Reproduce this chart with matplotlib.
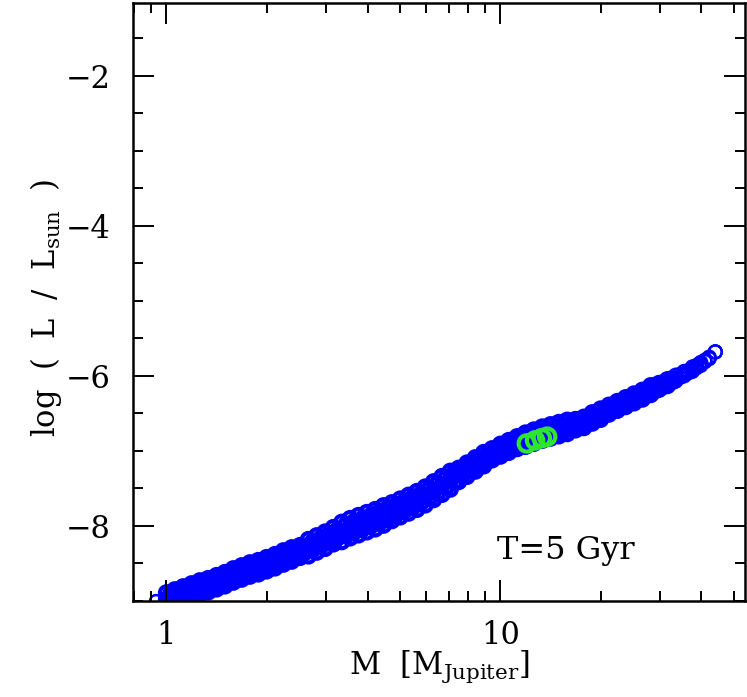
import numpy as np
import matplotlib
matplotlib.use('Agg')
import matplotlib.pyplot as plt
from matplotlib import ticker

# planet masses (Jupiter units) along the model band
mass = [1.000, 1.059, 1.122, 1.189, 1.259, 1.334, 1.413, 1.496, 1.585, 1.679,
        1.778, 1.884, 1.995, 2.113, 2.239, 2.371, 2.512, 2.661, 2.818, 2.985,
        3.162, 3.350, 3.548, 3.758, 3.981, 4.217, 4.467, 4.732, 5.012, 5.309,
        5.623, 5.957, 6.310, 6.683, 7.079, 7.499, 7.943, 8.414, 8.913, 9.441,
        10.00, 10.59, 11.22, 11.89, 12.59, 13.34, 14.13, 14.96, 15.85, 16.79,
        17.78, 18.84, 19.95, 21.13, 22.39, 23.71, 25.12, 26.61, 28.18, 29.85,
        31.62, 33.50, 35.48, 37.58, 39.81, 42.17, 44.00]

# log L/Lsun: upper, middle and lower models of the band
logl_hi = [-8.89, -8.85, -8.81, -8.77, -8.73, -8.70, -8.66, -8.62, -8.57, -8.53,
           -8.49, -8.46, -8.42, -8.38, -8.33, -8.29, -8.26, -8.18, -8.13, -8.08,
           -8.02, -7.95, -7.90, -7.86, -7.82, -7.78, -7.73, -7.69, -7.64, -7.59,
           -7.54, -7.48, -7.41, -7.34, -7.27, -7.23, -7.16, -7.09, -7.02, -6.97,
           -6.91, -6.86, -6.81, -6.76, -6.72, -6.68, -6.65, -6.62, -6.59, -6.58,
           -6.55, -6.49, -6.44, -6.39, -6.34, -6.29, -6.24, -6.19, -6.13, -6.10,
           -6.05, -5.99, -5.94, -5.88, -5.82, -5.75, -5.68]
logl_mid = [-8.98, -8.94, -8.90, -8.86, -8.82, -8.79, -8.75, -8.71, -8.66, -8.62,
            -8.58, -8.55, -8.51, -8.47, -8.42, -8.38, -8.34, -8.29, -8.24, -8.19,
            -8.13, -8.08, -8.03, -7.99, -7.95, -7.91, -7.86, -7.81, -7.76, -7.71,
            -7.66, -7.60, -7.53, -7.46, -7.39, -7.32, -7.25, -7.18, -7.11, -7.05,
            -6.99, -6.94, -6.89, -6.85, -6.81, -6.77, -6.74, -6.71, -6.68, -6.65,
            -6.62, -6.56, -6.51, -6.45, -6.40, -6.35, -6.30, -6.25, -6.19, -6.14,
            -6.09, -6.03, -5.97, -5.91, -5.84, -5.76, -5.68]
logl_lo = [-9.07, -9.03, -8.99, -8.95, -8.91, -8.88, -8.84, -8.80, -8.75, -8.71,
           -8.67, -8.64, -8.60, -8.56, -8.51, -8.47, -8.42, -8.40, -8.35, -8.30,
           -8.24, -8.21, -8.16, -8.12, -8.08, -8.04, -7.99, -7.93, -7.88, -7.83,
           -7.78, -7.72, -7.65, -7.58, -7.51, -7.41, -7.34, -7.27, -7.20, -7.12,
           -7.07, -7.02, -6.97, -6.94, -6.90, -6.86, -6.83, -6.80, -6.77, -6.72,
           -6.69, -6.63, -6.58, -6.51, -6.46, -6.41, -6.36, -6.31, -6.25, -6.18,
           -6.13, -6.07, -6.00, -5.94, -5.86, -5.77, -5.68]

# second set of models, masses in between the first set
mass_b = [1.029, 1.090, 1.155, 1.223, 1.296, 1.373, 1.454, 1.540, 1.632, 1.728,
          1.831, 1.939, 2.054, 2.176, 2.305, 2.441, 2.586, 2.739, 2.902, 3.073,
          3.256, 3.449, 3.652, 3.868, 4.097, 4.341, 4.597, 4.870, 5.158, 5.464,
          5.788, 6.131, 6.494, 6.879, 7.286, 7.718, 8.175, 8.660, 9.173, 9.716,
          10.29, 10.90, 11.55, 12.23, 12.96, 13.73, 14.54, 15.40, 16.32, 17.28,
          18.31, 19.39, 20.54, 21.76, 23.05, 24.41, 25.86, 27.39, 29.02, 30.73,
          32.56, 34.49, 36.52, 38.68, 40.97]
logl_b_up = [-8.91, -8.87, -8.83, -8.79, -8.75, -8.72, -8.68, -8.63, -8.59, -8.55,
             -8.51, -8.48, -8.44, -8.39, -8.35, -8.31, -8.27, -8.21, -8.16, -8.10,
             -8.05, -7.98, -7.94, -7.90, -7.86, -7.81, -7.76, -7.72, -7.67, -7.62,
             -7.57, -7.50, -7.43, -7.36, -7.29, -7.24, -7.17, -7.10, -7.03, -6.98,
             -6.92, -6.87, -6.83, -6.78, -6.74, -6.71, -6.68, -6.65, -6.62, -6.60,
             -6.55, -6.50, -6.44, -6.39, -6.34, -6.29, -6.24, -6.19, -6.13, -6.09,
             -6.04, -5.98, -5.93, -5.86, -5.79]
logl_b_dn = [-9.01, -8.97, -8.93, -8.89, -8.86, -8.82, -8.78, -8.74, -8.69, -8.65,
             -8.62, -8.58, -8.54, -8.50, -8.45, -8.41, -8.36, -8.32, -8.27, -8.22,
             -8.16, -8.13, -8.08, -8.04, -8.00, -7.96, -7.91, -7.85, -7.80, -7.75,
             -7.69, -7.63, -7.56, -7.49, -7.42, -7.33, -7.26, -7.19, -7.13, -7.06,
             -7.01, -6.96, -6.91, -6.88, -6.84, -6.80, -6.77, -6.74, -6.71, -6.67,
             -6.63, -6.57, -6.52, -6.46, -6.41, -6.36, -6.31, -6.25, -6.20, -6.14,
             -6.08, -6.02, -5.96, -5.89, -5.81]

# lone low-mass model at the bottom edge
mass_edge = [0.93]
logl_edge = [-9.00]

# highlighted models
mass_green = [12.0, 12.7, 13.3, 13.8]
logl_green = [-6.90, -6.86, -6.83, -6.81]

plt.rcParams['font.family'] = 'DejaVu Serif'
plt.rcParams['mathtext.fontset'] = 'dejavuserif'

fig = plt.figure(figsize=(7.47, 6.97), dpi=100)
ax = fig.add_axes([133/747, 96/697, 612/747, 598/697])

blue = '#0000ff'
for mm, ll in ((mass, logl_hi), (mass_b, logl_b_up), (mass, logl_mid),
               (mass_b, logl_b_dn), (mass, logl_lo)):
    # the sparse high-mass tip shows single thin rings
    lw = np.where(np.asarray(mm) > 33, 1.6, 3.0)
    ax.scatter(mm, ll, s=88, facecolors='none', edgecolors=blue, linewidths=lw)
ax.scatter(mass_edge, logl_edge, s=72, facecolors='none', edgecolors=blue, linewidths=1.8)
ax.scatter(mass_green, logl_green, s=140, facecolors='none', edgecolors='#2ee62e',
           linewidths=3.0)

ax.set_xscale('log')
ax.set_xlim(0.794, 54)
ax.set_ylim(-9, -1.03)

ax.xaxis.set_major_locator(ticker.FixedLocator([1, 10]))
ax.xaxis.set_major_formatter(ticker.FixedFormatter(['1', '10']))
ax.xaxis.set_minor_locator(ticker.LogLocator(base=10, subs=np.arange(2, 10)))
ax.xaxis.set_minor_formatter(ticker.NullFormatter())
ax.yaxis.set_major_locator(ticker.MultipleLocator(2))
ax.yaxis.set_minor_locator(ticker.MultipleLocator(0.5))

ax.tick_params(which='both', direction='in', top=True, right=True, width=1.4)
ax.tick_params(which='major', length=15, labelsize=22)
ax.tick_params(axis='x', which='major', pad=14)
ax.tick_params(axis='y', which='major', pad=16)
ax.tick_params(which='minor', length=7.5)
for sp in ax.spines.values():
    sp.set_linewidth(1.8)

ax.set_xlabel(r'M  [M$_{\rm Jupiter}$]', fontsize=22)
ax.set_ylabel(r'log  (  L  /  L$_{\rm sun}$  )', fontsize=22)
ax.xaxis.set_label_coords(0.5, -0.08)
ax.yaxis.set_label_coords(-0.112, 0.49)

ax.text(0.595, 0.085, 'T=5 Gyr', transform=ax.transAxes, fontsize=23,
        ha='left', va='center')

fig.savefig('out.png', dpi=100)
